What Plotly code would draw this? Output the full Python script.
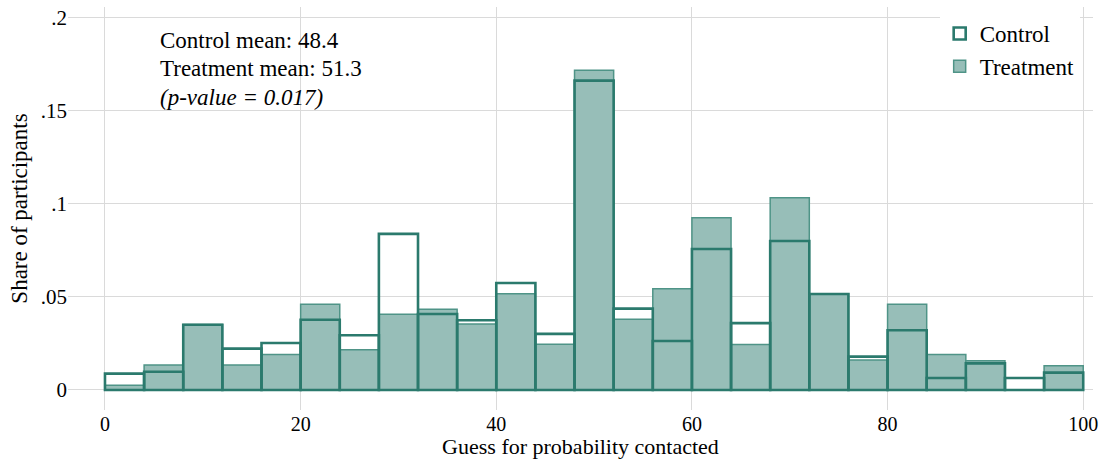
import plotly.graph_objects as go

# Histogram bins: width 4 from 0 to 100
bin_edges = list(range(0, 101, 4))
bin_width = 4

# Share of participants in each bin
treatment_share = [0.0025, 0.0134, 0.0351, 0.0134, 0.0190, 0.0460, 0.0216, 0.0406,
                   0.0433, 0.0354, 0.0517, 0.0245, 0.1717, 0.0380, 0.0544, 0.0925,
                   0.0244, 0.1032, 0.0515, 0.0161, 0.0460, 0.0190, 0.0157, 0.0,
                   0.0130]
control_share = [0.0088, 0.0098, 0.0350, 0.0222, 0.0252, 0.0377, 0.0294, 0.0838,
                 0.0408, 0.0374, 0.0574, 0.0301, 0.1661, 0.0437, 0.0263, 0.0757,
                 0.0359, 0.0800, 0.0515, 0.0179, 0.0321, 0.0064, 0.0143, 0.0064,
                 0.0093]

y_ticks = [0, 0.05, 0.1, 0.15, 0.2]
y_tick_text = ["0", ".05", ".1", ".15", ".2"]
x_ticks = [0, 20, 40, 60, 80, 100]

summary_lines = ["Control mean: 48.4", "Treatment mean: 51.3", "<i>(p-value = 0.017)</i>"]

bin_left = bin_edges[:-1]

FONT = "Liberation Serif, Times New Roman, serif"
LINE = "#2B7A6D"
FILL = "#97BEB8"

fig = go.Figure()
fig.add_trace(go.Bar(
    x=bin_left, y=treatment_share, width=bin_width, offset=0,
    name="Treatment",
    marker=dict(color=FILL, line=dict(color="#4F9487", width=1.5)),
))
fig.add_trace(go.Bar(
    x=bin_left, y=control_share, width=bin_width, offset=0,
    name="Control",
    marker=dict(color="rgba(0,0,0,0)", line=dict(color=LINE, width=2.6)),
))

W, H = 1102, 459
L, R, T, B = 68, 9, 7, 49
ph = H - T - B

def py(y_px):
    return (H - B - y_px) / ph

for i, line in enumerate(summary_lines):
    fig.add_annotation(
        x=(158 - L) / (W - L - R), y=py(40 + i * 28.5), xref="paper", yref="paper",
        text=line, showarrow=False, xanchor="left", yanchor="middle",
        font=dict(family=FONT, size=23, color="black"),
    )

fig.update_layout(
    width=W, height=H,
    margin=dict(l=L, r=R, t=T, b=B, autoexpand=False),
    paper_bgcolor="white", plot_bgcolor="white",
    barmode="overlay",
    font=dict(family=FONT, size=23, color="black"),
    legend=dict(
        x=0.987, y=py(12), xanchor="right", yanchor="top",
        bgcolor="white", traceorder="reversed",
        font=dict(family=FONT, size=23, color="black"),
        itemwidth=30, tracegroupgap=0,
    ),
    xaxis=dict(
        range=[-3.78, 101.0], tickvals=x_ticks, showgrid=True, automargin=False,
        gridcolor="#DADADA", gridwidth=1, zeroline=False, showline=False,
        ticks="", tickfont=dict(family=FONT, size=20),
        title=dict(text="Guess for probability contacted", standoff=2,
                   font=dict(family=FONT, size=22)),
    ),
    yaxis=dict(
        range=[-0.01074, 0.2056], tickvals=y_ticks, ticktext=y_tick_text,
        showgrid=True, gridcolor="#DADADA", gridwidth=1, zeroline=False,
        automargin=False,
        showline=False, ticks="", tickfont=dict(family=FONT, size=21),
        title=dict(text="Share of participants", standoff=6,
                   font=dict(family=FONT, size=23)),
    ),
    showlegend=True,
)

fig.write_html("out.html")
